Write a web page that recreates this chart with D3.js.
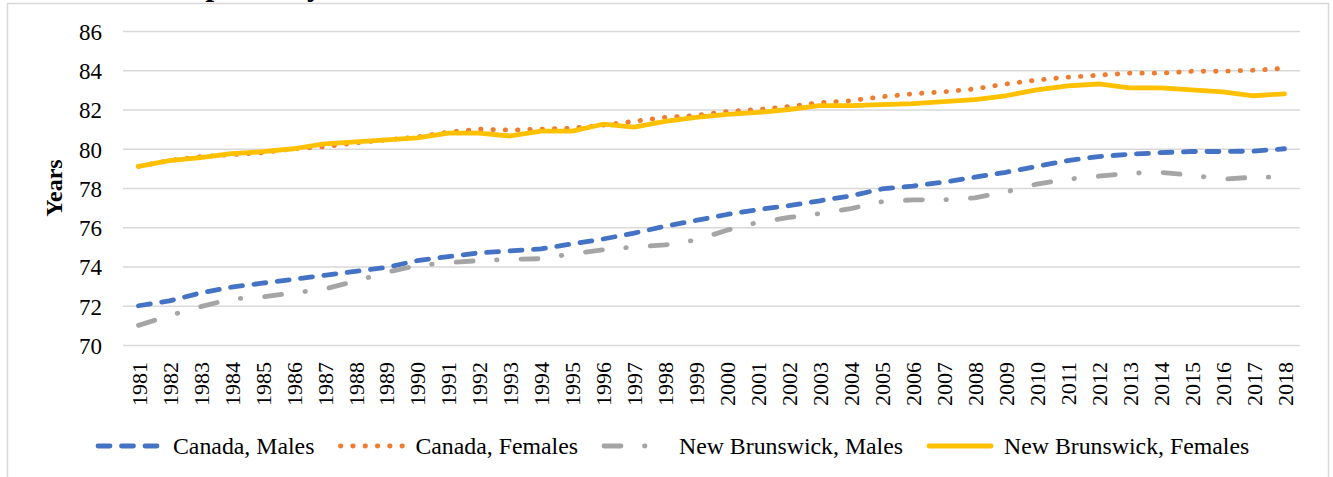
<!DOCTYPE html>
<html>
<head>
<meta charset="utf-8">
<script src="https://cdn.jsdelivr.net/npm/d3@7"></script>
<style>
    body { margin: 0; background: #fff; }
    svg { display: block; font-family: "Liberation Serif", "Times New Roman", serif; }
</style>
</head>
<body>
<div id="chart-area"></div>
<script>
// Data
var years = ["1981","1982","1983","1984","1985","1986","1987","1988","1989","1990",
    "1991","1992","1993","1994","1995","1996","1997","1998","1999","2000",
    "2001","2002","2003","2004","2005","2006","2007","2008","2009","2010",
    "2011","2012","2013","2014","2015","2016","2017","2018"];

var canadaMales = [72.0, 72.25, 72.65, 72.95, 73.15, 73.35, 73.55, 73.75, 73.95, 74.3,
    74.5, 74.7, 74.8, 74.9, 75.15, 75.4, 75.7, 76.05, 76.35, 76.65,
    76.9, 77.1, 77.35, 77.6, 77.95, 78.1, 78.3, 78.55, 78.8, 79.1,
    79.4, 79.6, 79.72, 79.8, 79.86, 79.86, 79.88, 80.0];

var canadaFemales = [79.1, 79.4, 79.6, 79.7, 79.8, 80.0, 80.1, 80.3, 80.45, 80.6,
    80.85, 81.0, 80.95, 81.0, 81.05, 81.2, 81.4, 81.6, 81.7, 81.9,
    82.0, 82.15, 82.35, 82.45, 82.65, 82.8, 82.9, 83.05, 83.3, 83.5,
    83.65, 83.75, 83.85, 83.85, 83.95, 83.95, 84.0, 84.1];

var nbMales = [71.0, 71.5, 71.95, 72.35, 72.45, 72.65, 72.85, 73.25, 73.7, 74.05,
    74.2, 74.3, 74.36, 74.4, 74.65, 74.85, 75.0, 75.1, 75.35, 75.85,
    76.25, 76.5, 76.7, 76.95, 77.3, 77.4, 77.4, 77.5, 77.8, 78.2,
    78.45, 78.6, 78.75, 78.8, 78.65, 78.45, 78.55, 78.55];

var nbFemales = [79.1, 79.4, 79.55, 79.75, 79.85, 80.0, 80.25, 80.35, 80.45, 80.55,
    80.8, 80.8, 80.65, 80.9, 80.9, 81.25, 81.1, 81.4, 81.6, 81.75,
    81.85, 82.0, 82.2, 82.2, 82.25, 82.3, 82.4, 82.5, 82.7, 83.0,
    83.2, 83.3, 83.1, 83.1, 83.0, 82.9, 82.7, 82.8];

var seriesNames = ["Canada, Males", "Canada, Females", "New Brunswick, Males", "New Brunswick, Females"];
var yTicks = [70, 72, 74, 76, 78, 80, 82, 84, 86];

var margin = { left: 123, right: 33, top: 31, bottom: 132 },
    width = 1333 - margin.left - margin.right,
    height = 477 - margin.top - margin.bottom;

var svg = d3.select("#chart-area")
    .append("svg")
    .attr("width", 1333)
    .attr("height", 477);

// chart frame
svg.append("rect")
    .attr("x", 7.5)
    .attr("y", 3.5)
    .attr("width", 1321)
    .attr("height", 490)
    .attr("fill", "none")
    .attr("stroke", "#d9d9d9")
    .attr("stroke-width", 1.5);

// title above the frame, only its descenders reach into the picture
svg.append("text")
    .attr("x", 115)
    .attr("y", -5)
    .attr("font-size", "31px")
    .attr("font-weight", "bold")
    .attr("fill", "#000")
    .text("Life expectancy");

var g = svg.append("g")
    .attr("transform", "translate(" + margin.left + "," + margin.top + ")");

// Scales
var x = d3.scalePoint().domain(years).range([0, width]).padding(0.5);
var y = d3.scaleLinear().domain([70, 86]).range([height, 0]);

// Y-axis with gridlines
var yAxisCall = d3.axisLeft(y)
    .tickValues(yTicks)
    .tickSize(-width)
    .tickPadding(21)
    .tickFormat(d3.format("d"));
var yAxis = g.append("g")
    .attr("class", "y axis")
    .call(yAxisCall);
yAxis.select(".domain").remove();
yAxis.selectAll("line")
    .attr("stroke", "#d9d9d9")
    .attr("stroke-width", 1.5);
yAxis.selectAll("text")
    .attr("font-family", "Liberation Serif, Times New Roman, serif")
    .attr("font-size", "23px")
    .attr("fill", "#000")
    .attr("dy", "0.36em");

// X-axis, rotated labels
var xAxisCall = d3.axisBottom(x).tickSize(0);
var xAxis = g.append("g")
    .attr("class", "x axis")
    .attr("transform", "translate(0," + height + ")")
    .call(xAxisCall);
xAxis.select(".domain").remove();
xAxis.selectAll("text")
    .attr("font-family", "Liberation Serif, Times New Roman, serif")
    .attr("font-size", "22px")
    .attr("fill", "#000")
    .attr("transform", "rotate(-90)")
    .attr("text-anchor", "end")
    .attr("x", -17)
    .attr("y", 0)
    .attr("dy", "0.35em");

// Y label
g.append("text")
    .attr("transform", "translate(" + (62 - margin.left) + "," + (height / 2) + ") rotate(-90)")
    .attr("text-anchor", "middle")
    .attr("font-size", "24px")
    .attr("font-weight", "bold")
    .text("Years");

// Line styles
var styles = [
    { color: "#4472C4", dash: "12,11.5" },
    { color: "#ED7D31", dash: "0.5,11.8" },
    { color: "#A5A5A5", dash: "17,23.5,0.5,24" },
    { color: "#FFC000", dash: null }
];
var allSeries = [canadaMales, canadaFemales, nbMales, nbFemales];

var line = d3.line()
    .x(function(d, i){ return x(years[i]); })
    .y(function(d){ return y(d); });

allSeries.forEach(function(values, k){
    g.append("path")
        .attr("class", "line")
        .attr("d", line(values))
        .attr("fill", "none")
        .attr("stroke", styles[k].color)
        .attr("stroke-width", 4.8)
        .attr("stroke-linecap", "round")
        .attr("stroke-linejoin", "round")
        .attr("stroke-dasharray", styles[k].dash);
});

// Legend
var legend = svg.append("g")
    .attr("transform", "translate(0,446)");
var lx = 96;
seriesNames.forEach(function(name, k){
    legend.append("path")
        .attr("d", "M" + (lx + 2) + ",0H" + (lx + 64))
        .attr("fill", "none")
        .attr("stroke", styles[k].color)
        .attr("stroke-width", 4.8)
        .attr("stroke-linecap", "round")
        .attr("stroke-dasharray", styles[k].dash);
    var txt = legend.append("text")
        .attr("x", lx + 77)
        .attr("y", 7.5)
        .attr("font-size", "23.8px")
        .attr("fill", "#000")
        .text(name);
    lx = lx + 77 + txt.node().getComputedTextLength() + 24;
});
</script>
</body>
</html>
